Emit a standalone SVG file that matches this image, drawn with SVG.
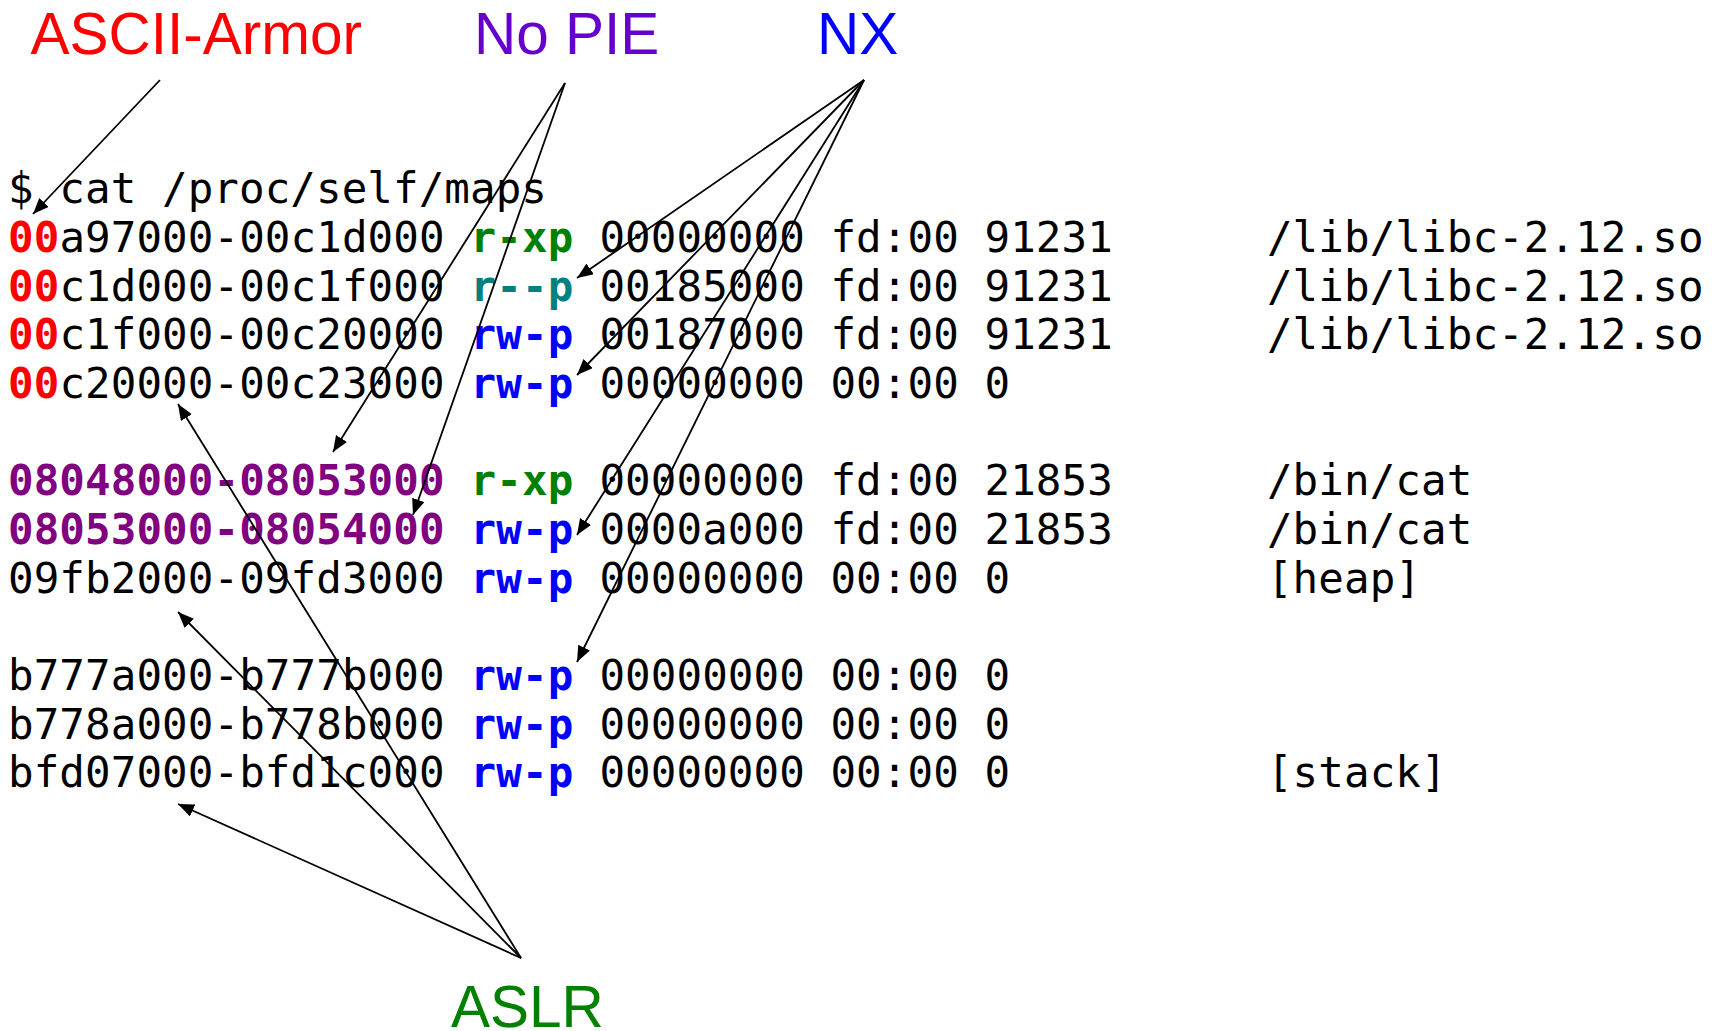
<svg xmlns="http://www.w3.org/2000/svg" width="1717" height="1031" viewBox="0 0 1717 1031">
<style>
.t{font-family:"Liberation Sans",Arial,sans-serif;font-size:58.5px}
.m{font-family:"DejaVu Sans Mono",monospace;font-size:42.5px;fill:#000;letter-spacing:0.1px}
.b{font-weight:bold}
.red{fill:#ff0000}
.pur{fill:#800080}
.grn{fill:#008000}
.teal{fill:#008080}
.blu{fill:#0000ff}
.c line{stroke:#000;stroke-width:1.8;marker-end:url(#ah)}
</style>
<defs>
<marker id="ah" markerUnits="userSpaceOnUse" markerWidth="18" markerHeight="14" refX="16" refY="6.5" orient="auto">
<path d="M0,0 L16,6.5 L0,13 z" fill="#000"/>
</marker>
</defs>
<rect width="1717" height="1031" fill="#fff"/>
<g id="title-ascii"><text class="t red" x="30.5" y="53.5">ASCII-Armor</text></g>
<g id="title-nopie"><text class="t" x="474" y="53.5" fill="#6600cc">No PIE</text></g>
<g id="title-nx"><text class="t blu" x="817" y="53.5">NX</text></g>
<g id="title-aslr"><text class="t grn" x="451" y="1027">ASLR</text></g>
<g id="maps">
<text class="m" x="8" y="203.3" textLength="539" lengthAdjust="spacing">$ cat /proc/self/maps</text>
<text class="m" y="252"><tspan x="8" class="b red">00</tspan><tspan>a97000-00c1d000</tspan><tspan x="470.6" class="b grn">r-xp</tspan><tspan x="599.4">00000000</tspan><tspan x="830.4">fd:00</tspan><tspan x="984.5">91231</tspan><tspan x="1266.9">/lib/libc-2.12.so</tspan></text>
<text class="m" y="300.7"><tspan x="8" class="b red">00</tspan><tspan>c1d000-00c1f000</tspan><tspan x="470.6" class="b teal">r--p</tspan><tspan x="599.4">00185000</tspan><tspan x="830.4">fd:00</tspan><tspan x="984.5">91231</tspan><tspan x="1266.9">/lib/libc-2.12.so</tspan></text>
<text class="m" y="349.3"><tspan x="8" class="b red">00</tspan><tspan>c1f000-00c20000</tspan><tspan x="470.6" class="b blu">rw-p</tspan><tspan x="599.4">00187000</tspan><tspan x="830.4">fd:00</tspan><tspan x="984.5">91231</tspan><tspan x="1266.9">/lib/libc-2.12.so</tspan></text>
<text class="m" y="398"><tspan x="8" class="b red">00</tspan><tspan>c20000-00c23000</tspan><tspan x="470.6" class="b blu">rw-p</tspan><tspan x="599.4">00000000</tspan><tspan x="830.4">00:00</tspan><tspan x="984.5">0</tspan></text>
<text class="m" y="495.3"><tspan x="8" class="b pur">08048000-08053000</tspan><tspan x="470.6" class="b grn">r-xp</tspan><tspan x="599.4">00000000</tspan><tspan x="830.4">fd:00</tspan><tspan x="984.5">21853</tspan><tspan x="1266.9">/bin/cat</tspan></text>
<text class="m" y="544"><tspan x="8" class="b pur">08053000-08054000</tspan><tspan x="470.6" class="b blu">rw-p</tspan><tspan x="599.4">0000a000</tspan><tspan x="830.4">fd:00</tspan><tspan x="984.5">21853</tspan><tspan x="1266.9">/bin/cat</tspan></text>
<text class="m" y="592.7"><tspan x="8">09fb2000-09fd3000</tspan><tspan x="470.6" class="b blu">rw-p</tspan><tspan x="599.4">00000000</tspan><tspan x="830.4">00:00</tspan><tspan x="984.5">0</tspan><tspan x="1266.9">[heap]</tspan></text>
<text class="m" y="690"><tspan x="8">b777a000-b777b000</tspan><tspan x="470.6" class="b blu">rw-p</tspan><tspan x="599.4">00000000</tspan><tspan x="830.4">00:00</tspan><tspan x="984.5">0</tspan></text>
<text class="m" y="738.7"><tspan x="8">b778a000-b778b000</tspan><tspan x="470.6" class="b blu">rw-p</tspan><tspan x="599.4">00000000</tspan><tspan x="830.4">00:00</tspan><tspan x="984.5">0</tspan></text>
<text class="m" y="787.3"><tspan x="8">bfd07000-bfd1c000</tspan><tspan x="470.6" class="b blu">rw-p</tspan><tspan x="599.4">00000000</tspan><tspan x="830.4">00:00</tspan><tspan x="984.5">0</tspan><tspan x="1266.9">[stack]</tspan></text>
</g>
<g id="connectors" class="c">
<line x1="160" y1="80" x2="33" y2="214"/>
<line x1="565" y1="83" x2="333" y2="452"/>
<line x1="565" y1="83" x2="413" y2="515"/>
<line x1="864" y1="80" x2="577" y2="278"/>
<line x1="864" y1="80" x2="577" y2="375"/>
<line x1="864" y1="80" x2="577" y2="535"/>
<line x1="864" y1="80" x2="577" y2="662"/>
<line x1="521" y1="958" x2="178" y2="404"/>
<line x1="521" y1="958" x2="178" y2="612"/>
<line x1="521" y1="958" x2="178" y2="804"/>
</g>
</svg>
